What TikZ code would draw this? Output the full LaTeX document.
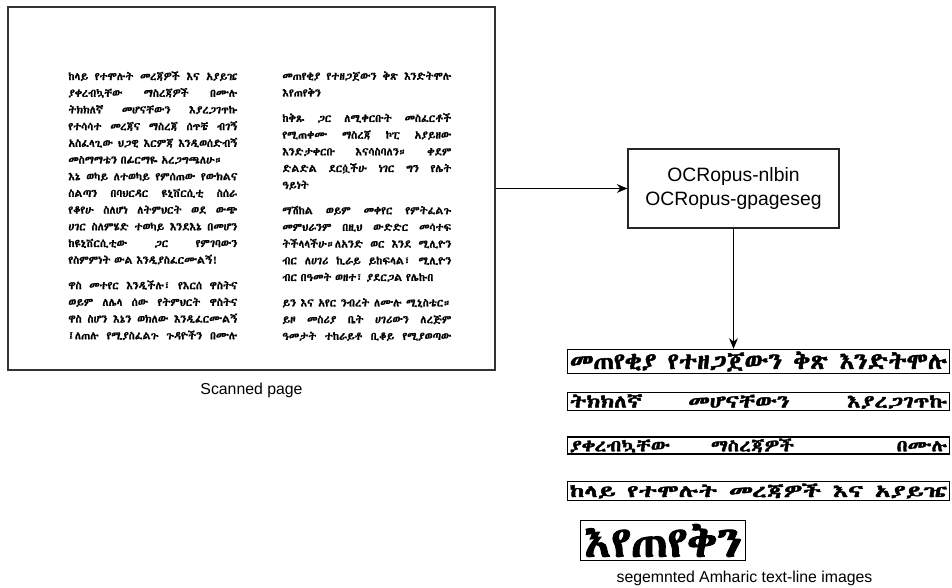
\documentclass[tikz,border=0pt]{standalone}
\usepackage{fontspec}
\usepackage{graphicx}
\usetikzlibrary{arrows.meta}
\setmainfont{Liberation Sans}
% first installed font that has Ethiopic letters
\newif\ifethfound
\newcommand{\tryethfont}[1]{%
  \ifethfound\else
    \IfFontExistsTF{#1}{%
      \begingroup\fontspec{#1}%
      \iffontchar\font"1200 \global\ethfoundtrue\fi
      \endgroup
      \ifethfound\gdef\ethname{#1}\fi}{}%
  \fi}
\tryethfont{Abyssinica SIL}
\tryethfont{FreeSerif}
\tryethfont{Noto Sans Ethiopic}
\tryethfont{Noto Serif Ethiopic}
\tryethfont{Noto Sans}
\tryethfont{DejaVu Sans}
\ifethfound\else\def\ethname{DejaVu Sans}\fi
\edef\x{\noexpand\newfontfamily\noexpand\ethfont[FakeBold=1]{\ethname}}\x
\edef\x{\noexpand\newfontfamily\noexpand\ethbold[FakeBold=2]{\ethname}}\x
% a justified line of the scanned page
\newcommand{\jl}[1]{\makebox[3.38cm][s]{\spaceskip=0.3em plus 1fil\relax #1}}

\begin{document}
\begin{tikzpicture}[
  pagebox/.style={draw=black!80,line width=1.1pt,minimum width=9.74cm,minimum height=7.26cm,inner sep=0},
  column/.style={anchor=north west,inner sep=0,text width=3.38cm,font=\ethfont\fontsize{6.3}{9.5}\selectfont},
  toolbox/.style={draw=black!85,line width=0.7pt,minimum width=4.22cm,minimum height=1.58cm,align=center,font=\fontsize{11}{13.5}\selectfont},
  lineimg/.style={draw,line width=0.8pt,inner sep=0,minimum width=7.63cm},
  caption/.style={font=\fontsize{9}{11}\selectfont},
  arr/.style={-{Stealth[length=6pt,width=5pt]},line width=0.6pt}
]
\useasboundingbox (0,0) rectangle (19.04,11.76);

% scanned page
\node [pagebox] (page) at (5.03,7.99) {};
\node [column] (colL) at (1.36,10.34) {%
\jl{ከላይ የተሞሉት መረጃዎች እና አያይዤ}\\
\jl{ያቀረብኳቸው ማስረጃዎች በሙሉ}\\
\jl{ትክክለኛ መሆናቸውን እያረጋገጥኩ}\\
\jl{የተሳሳተ መረጃና ማስረጃ ሰጥቼ ብገኝ}\\
\jl{አስፈላጊው ህጋዊ እርምጃ እንዲወሰድብኝ}\\
መስማማቴን በፊርማዬ አረጋግጫለሁ።\\
\jl{እኔ ወካይ ለተወካይ የምሰጠው የውክልና}\\
\jl{ስልጣን በባህርዳር ዩኒቨርሲቲ ስሰራ}\\
\jl{የቆየሁ ስለሆነ ለትምህርት ወደ ውጭ}\\
\jl{ሀገር ስለምሄድ ተወካይ እንደእኔ በመሆን}\\
\jl{ከዩኒቨርሲቲው ጋር የምገባውን}\\
የስምምነት ውል እንዲያስፈርሙልኝ!\\[5pt]
\jl{ዋስ መተየር እንዲችሉ፣ የእርሰ ዋስትና}\\
\jl{ወይም ለሌላ ሰው የትምህርት ዋስትና}\\
\jl{ዋስ ስሆን እኔን ወክለው እንዲፈርሙልኝ}\\
\jl{፤ለጠሉ የሚያስፈልጉ ጉዳዮችን በሙሉ}};
\node [column] (colR) at (5.64,10.34) {%
\jl{መጠየቂያ የተዘጋጀውን ቅጽ እንድትሞሉ}\\
እየጠየቅን\\[5pt]
\jl{ከቅጹ ጋር ለሚቀርቡት መስፈርቶች}\\
\jl{የሚጠቀሙ ማስረጃ ኮፒ አያይዘው}\\
\jl{እንድታቀርቡ እናሳስባለን። ቀደም}\\
\jl{ድልድል ደርሷችሁ ነገር ግን የሌት}\\
ዓይነት\\[5pt]
\jl{ማሽከል ወይም መቀየር የምትፈልጉ}\\
\jl{መምህራንም በዚህ ውድድር መሳተፍ}\\
\jl{ትችላላችሁ።ለአንድ ወር እንደ ሚሊዮን}\\
\jl{ብር ለሀገሪ ኪራይ ይከፍላል፣ ሚሊዮን}\\
ብር በዓመት ወዘተ፣ ያደርጋል የሌኩበ\\[5pt]
\jl{ይን እና አየር ንብረት ለሙሉ ሚኒስቴር።}\\
\jl{ይዞ መስሪያ ቤት ሀገሪውን ለረጅም}\\
\jl{ዓመታት ተከራይቶ ቢቆይ የሚያወጣው}};
\node [caption] (pagecap) at (5.03,3.96) {Scanned page};

% segmentation
\node [toolbox] (ocr) at (14.67,7.99) {OCRopus-nlbin\\OCRopus-gpageseg};

% text-line images
\node [lineimg,minimum height=0.48cm] (line1) at (15.17,4.53)
  {\resizebox*{7.55cm}{0.40cm}{\ethbold መጠየቂያ የተዘጋጀውን ቅጽ እንድትሞሉ}};
\node [lineimg,minimum height=0.35cm] (line2) at (15.17,3.73)
  {\resizebox*{7.55cm}{0.29cm}{\ethbold ትክክለኛ\hspace{2em}መሆናቸውን\hspace{2.5em}እያረጋገጥኩ}};
\node [lineimg,minimum height=0.34cm] (line3) at (15.17,2.85)
  {\resizebox*{7.55cm}{0.28cm}{\ethbold ያቀረብኳቸው\hspace{2em}ማስረጃዎች\hspace{5em}በሙሉ}};
\node [lineimg,minimum height=0.37cm] (line4) at (15.17,1.94)
  {\resizebox*{7.55cm}{0.30cm}{\ethbold ከላይ የተሞሉት መረጃዎች እና አያይዤ}};
\node [lineimg,minimum width=3.31cm,minimum height=0.81cm] (line5) at (13.26,0.95)
  {\resizebox*{3.15cm}{0.66cm}{\ethbold እየጠየቅን}};
\node [caption,inner sep=1pt] (linecap) at (14.89,0.2) {segemnted Amharic text-line images};

%% arrows
\draw [arr] (page) -- (ocr);
\draw [arr] (ocr.south) -- (ocr.south |- line1.north);

\end{tikzpicture}
\end{document}
